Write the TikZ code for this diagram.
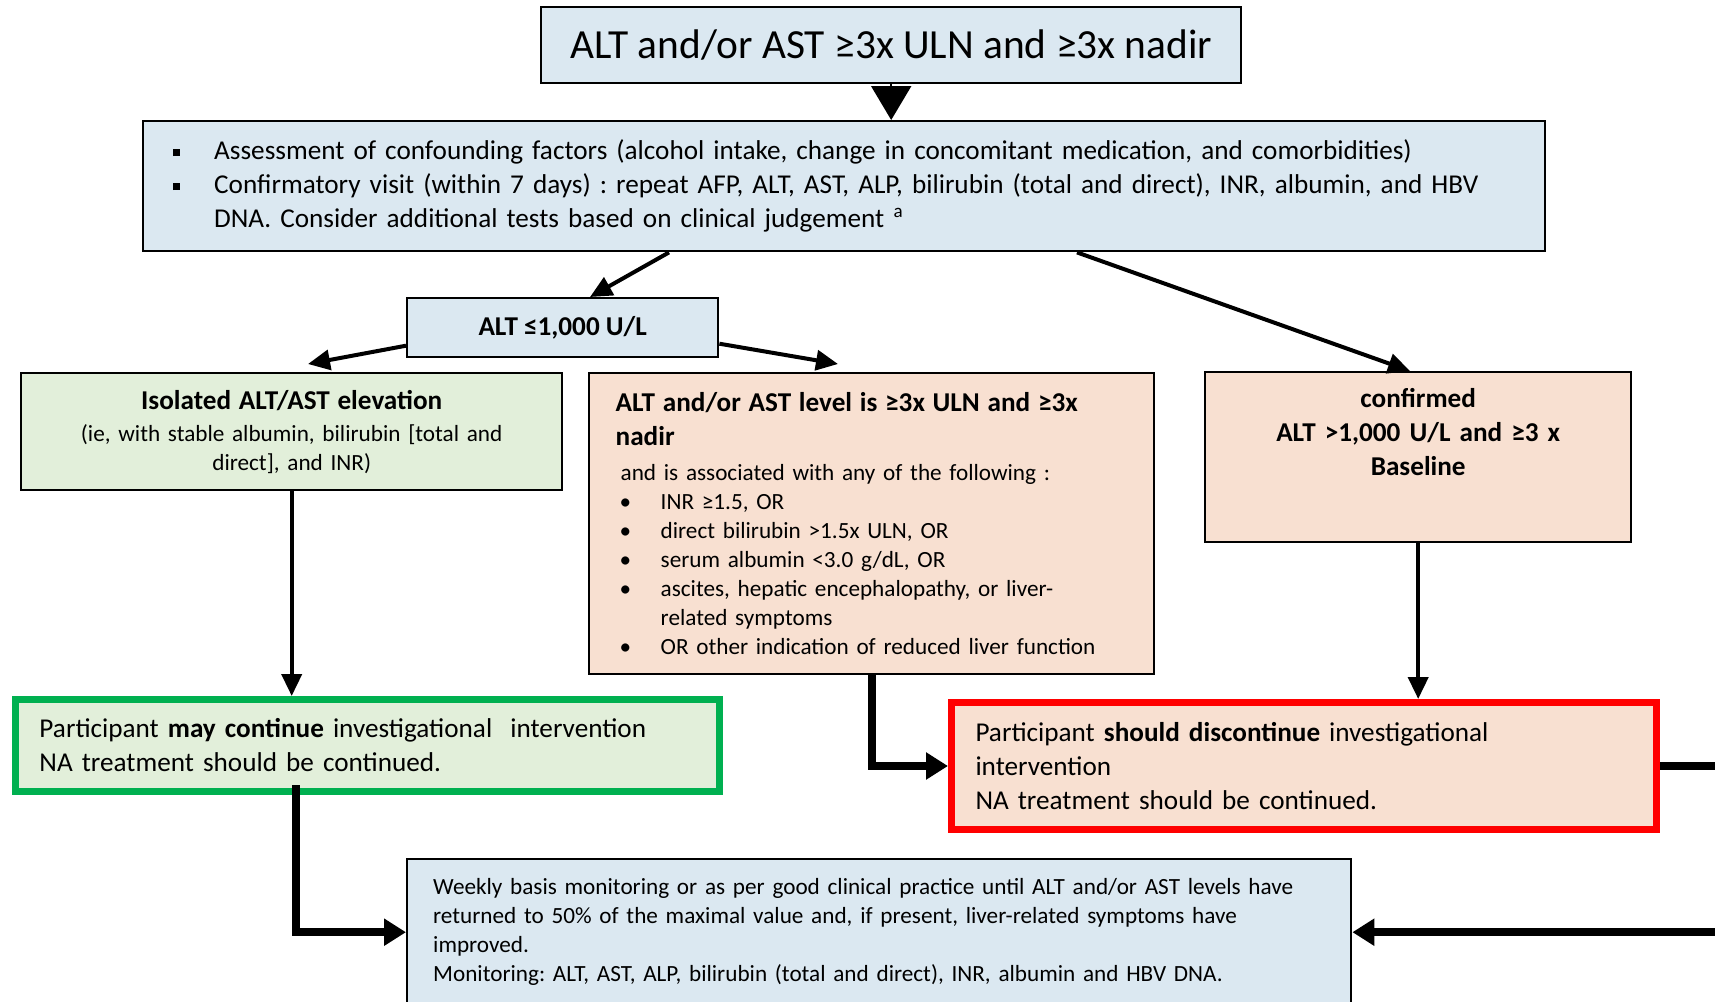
\documentclass[tikz,border=0pt]{standalone}
\usepackage{fontspec}
\setmainfont{Carlito}
\usetikzlibrary{arrows.meta}

\definecolor{boxblue}{RGB}{219,232,241}
\definecolor{boxgreen}{RGB}{226,239,218}
\definecolor{boxorange}{RGB}{248,224,209}
\definecolor{edgegreen}{RGB}{0,176,80}
\definecolor{edgered}{RGB}{255,0,0}

\newcommand{\titlesize}{\fontsize{20.7}{25}\selectfont}
\newcommand{\bodysize}{\fontsize{13.6}{17}\selectfont}
\newcommand{\smallsize}{\fontsize{11.6}{14.5}\selectfont}
\newcommand{\sqbullet}{\rule[1.8pt]{3.5pt}{3.5pt}}
\frenchspacing

\begin{document}
\begin{tikzpicture}[x=0.5pt, y=0.5pt,
		box/.style = {draw, line width=1.2pt, anchor=north west, inner ysep=0pt, font=\bodysize},
		bluebox/.style = {box, fill=boxblue},
		greenbox/.style = {box, fill=boxgreen},
		orangebox/.style = {box, fill=boxorange},
		thinarrow/.style = {line width=2pt, -{Triangle[width=10pt,length=11pt]}},
		heavyarrow/.style = {line width=4pt, -{Triangle[width=13pt,length=11pt]}}
	]
	\useasboundingbox (0,0) rectangle (1715,-1002);

	\node[bluebox, minimum width=350pt, minimum height=38pt, font=\titlesize] (top) at (540,-6)
		{ALT and/or AST ≥3x ULN and ≥3x nadir};

	\node[bluebox, minimum width=701pt, minimum height=65pt, inner xsep=0pt, text width=701pt, align=left] (assess) at (142,-120)
		{\makebox[35.5pt][l]{\hspace*{15pt}\sqbullet}Assessment of confounding factors (alcohol intake, change in concomitant medication, and comorbidities)\\
		 \makebox[35.5pt][l]{\hspace*{15pt}\sqbullet}Confirmatory visit (within 7 days) : repeat AFP, ALT, AST, ALP, bilirubin (total and direct), INR, albumin, and HBV\\
		 \hspace*{35.5pt}DNA. Consider additional tests based on clinical judgement \textsuperscript{a}};

	\node[bluebox, minimum width=155.5pt, minimum height=29.5pt, font=\bodysize\bfseries] (alt) at (406,-297)
		{ALT ≤1,000 U/L};

	\node[greenbox, minimum width=270.5pt, minimum height=58.5pt, text width=262pt, inner xsep=4.25pt, align=center, font=\smallsize] (iso) at (20,-372)
		{{\bodysize\bfseries Isolated ALT/AST elevation}\\[1.5pt]
		 (ie, with stable albumin, bilirubin [total and\\
		 direct], and INR)};

	\node[orangebox, minimum width=282.5pt, minimum height=150.5pt, text width=256pt, inner xsep=13.25pt, align=left, font=\smallsize] (mid) at (588,-372)
		{{\bodysize\bfseries ALT and/or AST level is ≥3x ULN and ≥3x}\\[2.5pt]
		 {\bodysize\bfseries nadir}\\[3pt]
		 \hspace*{2.5pt}and is associated with any of the following :\\
		 \makebox[22.5pt][l]{\hspace*{2pt}•}INR ≥1.5, OR\\
		 \makebox[22.5pt][l]{\hspace*{2pt}•}direct bilirubin >1.5x ULN, OR\\
		 \makebox[22.5pt][l]{\hspace*{2pt}•}serum albumin <3.0 g/dL, OR\\
		 \makebox[22.5pt][l]{\hspace*{2pt}•}ascites, hepatic encephalopathy, or liver-\\
		 \hspace*{22.5pt}related symptoms\\
		 \makebox[22.5pt][l]{\hspace*{2pt}•}OR other indication of reduced liver function};

	\node[orangebox, minimum width=213pt, text width=201pt, inner xsep=6pt, inner ysep=8pt, text height=9.5pt, text depth=59.5pt, align=center, font=\bodysize\bfseries] (conf) at (1204,-371)
		{confirmed\\
		 ALT >1,000 U/L and ≥3 x\\
		 Baseline};

	\node[greenbox, draw=edgegreen, line width=3.5pt, minimum width=352pt, minimum height=46pt, text width=328pt, inner xsep=12pt, align=left] (cont) at (12,-696)
		{Participant \textbf{may continue} investigational\ \ intervention\\
		 NA treatment should be continued.};

	\node[orangebox, draw=edgered, line width=3.5pt, minimum width=352.5pt, minimum height=63.5pt, text width=328.5pt, inner xsep=12pt, align=left] (stop) at (948,-699)
		{Participant \textbf{should discontinue} investigational\\
		 intervention\\
		 NA treatment should be continued.};

	\node[bluebox, minimum width=472pt, minimum height=73pt, text width=446pt, inner xsep=13pt, align=left, font=\smallsize] (mon) at (406,-858)
		{Weekly basis monitoring or as per good clinical practice until ALT and/or AST levels have\\
		 returned to 50\% of the maximal value and, if present, liver-related symptoms have\\
		 improved.\\
		 Monitoring: ALT, AST, ALP, bilirubin (total and direct), INR, albumin and HBV DNA.};

	\draw[line width=1pt, -{Triangle[width=20pt,length=17pt]}] (top.south) -- (top.south |- assess.north);
	\draw[thinarrow] ([xshift=263.5pt]assess.south west) -- ([xshift=92pt]alt.north west);
	\draw[thinarrow] ([xshift=467.5pt]assess.south west) -- ([xshift=103pt]conf.north west);
	\draw[thinarrow] ([yshift=-9pt]alt.west) -- ([xshift=144pt,yshift=4pt]iso.north west);
	\draw[thinarrow] ([yshift=-8pt]alt.east) -- ([xshift=125pt,yshift=4pt]mid.north west);
	\draw[thinarrow] (iso.south) -- (iso.south |- cont.north);
	\draw[thinarrow] (conf.south) -- (conf.south |- stop.north);
	\draw[heavyarrow] (mid.south) |- (stop.west);
	\draw[heavyarrow] ([xshift=142pt,yshift=5pt]cont.south west) |- (mon.west);
	\coordinate (rturn) at ([xshift=32pt]stop.east);
	\draw[heavyarrow] (stop.east) -- (rturn) |- (mon.east);
\end{tikzpicture}
\end{document}
